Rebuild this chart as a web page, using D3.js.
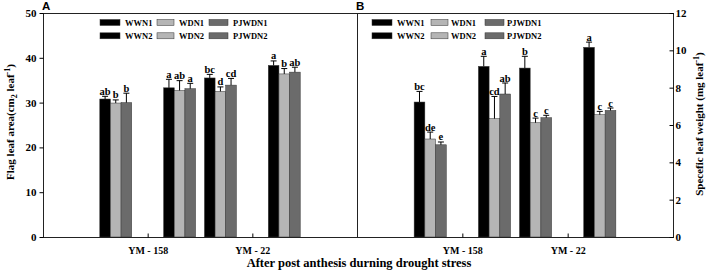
<!DOCTYPE html>
<html>
<head>
<meta charset="utf-8">
<script src="https://cdn.jsdelivr.net/npm/d3@7"></script>
<style>
  body { margin: 0; background: #fff; }
  svg text { font-family: "Liberation Serif", "Times New Roman", serif; font-weight: bold; }
</style>
</head>
<body>
<svg id="chart" width="708" height="273"></svg>
<script>
// categories
const cultivars = ["YM - 158", "YM - 22"];
const nLevels = ["N1", "N2"];
const treatments = ["WW", "WD", "PJWD"];
const legendNames = [["WWN1", "WDN1", "PJWDN1"], ["WWN2", "WDN2", "PJWDN2"]];

// flag leaf area, groups: YM-158 N1, YM-158 N2, YM-22 N1, YM-22 N2 ; each [WW, WD, PJWD]
const areaValues = [[30.8, 29.9, 30.0], [33.3, 32.7, 33.1], [35.5, 32.5, 33.9], [38.3, 36.4, 36.8]];
const areaErrors = [[0.6, 0.7, 2.1], [1.9, 2.2, 1.2], [0.8, 1.0, 1.5], [1.0, 1.2, 1.1]];
const areaLetters = [["ab", "b", "b"], ["a", "ab", "a"], ["bc", "d", "cd"], ["a", "b", "ab"]];
const areaTicks = [0, 10, 20, 30, 40, 50];

// specific leaf weight
const slwValues = [[7.23, 5.25, 4.94], [9.14, 6.34, 7.66], [9.05, 6.12, 6.39], [10.16, 6.55, 6.78]];
const slwErrors = [[0.57, 0.37, 0.15], [0.54, 1.19, 0.59], [0.63, 0.25, 0.13], [0.28, 0.18, 0.13]];
const slwLetters = [["bc", "de", "e"], ["a", "cd", "ab"], ["b", "c", "c"], ["a", "c", "c"]];
const slwTicks = [0, 2, 4, 6, 8, 10, 12];

const colors = { WW: "#000000", WD: "#b5b5b5", PJWD: "#6b6b6b" };

const svg = d3.select("#chart");
const plotTop = 13, plotBottom = 237;

function rows(values, errors, letters) {
    const out = [];
    cultivars.forEach((c, ci) => nLevels.forEach((n, ni) => treatments.forEach((t, ti) => {
        const g = ci * 2 + ni;
        out.push({ cultivar: c, n: n, t: t, v: values[g][ti], e: errors[g][ti], lab: letters[g][ti] });
    })));
    return out;
}

function drawPanel(p) {
    const g = svg.append("g");
    const x0 = d3.scalePoint().domain(cultivars).range([p.left, p.right]).padding(1);
    const step = x0.step();
    // N1 group left of the cultivar tick, N2 group right of it
    const xN = d3.scaleBand().domain(nLevels).range([-0.61 * step, 0.61 * step]);
    const xT = d3.scaleBand().domain(treatments).range([0, xN.bandwidth()]).paddingOuter(1.5);
    const y = d3.scaleLinear().domain(p.domain).range([plotBottom, plotTop]);
    const bx = d => x0(d.cultivar) + xN(d.n) + xT(d.t);
    const data = rows(p.values, p.errors, p.letters);

    // bars
    g.selectAll("rect.bar").data(data).enter().append("rect")
        .attr("class", "bar")
        .attr("x", bx)
        .attr("y", d => y(d.v))
        .attr("width", xT.bandwidth())
        .attr("height", d => y(0) - y(d.v))
        .attr("fill", d => colors[d.t])
        .attr("stroke", "#333").attr("stroke-width", 0.5);

    // error bars (upper only)
    const cx = d => bx(d) + xT.bandwidth() / 2;
    g.selectAll("line.err").data(data).enter().append("line")
        .attr("x1", cx).attr("x2", cx)
        .attr("y1", d => y(d.v)).attr("y2", d => y(d.v + d.e))
        .attr("stroke", "#000").attr("stroke-width", 1);
    g.selectAll("line.cap").data(data).enter().append("line")
        .attr("x1", d => cx(d) - 3).attr("x2", d => cx(d) + 3)
        .attr("y1", d => y(d.v + d.e)).attr("y2", d => y(d.v + d.e))
        .attr("stroke", "#000").attr("stroke-width", 1);
    g.selectAll("text.lab").data(data).enter().append("text")
        .attr("x", cx)
        .attr("y", d => y(d.v + d.e) - 1.5)
        .attr("text-anchor", "middle")
        .attr("font-size", 10.5)
        .text(d => d.lab);

    // frame
    g.append("rect")
        .attr("x", p.left + 0.5).attr("y", plotTop + 0.5)
        .attr("width", p.right - p.left).attr("height", plotBottom - plotTop)
        .attr("fill", "none").attr("stroke", "#222").attr("stroke-width", 1);

    // x axis
    const xa = g.append("g").attr("transform", `translate(0,${plotBottom + 0.5})`)
        .call(d3.axisBottom(x0).tickSizeInner(-4).tickSizeOuter(0).tickPadding(9));
    xa.select(".domain").remove();
    xa.selectAll("text").attr("font-size", 10).attr("font-family", null).attr("fill", "#000");

    // y axis
    const axis = p.side === "left" ? d3.axisLeft(y).tickSize(4) : d3.axisRight(y).tickSize(-4);
    const ya = g.append("g")
        .attr("transform", `translate(${(p.side === "left" ? p.left : p.right) + 0.5},0)`)
        .call(axis.tickValues(p.ticks).tickPadding(p.side === "left" ? 3 : 2));
    ya.select(".domain").remove();
    ya.selectAll("text").attr("font-size", 11).attr("font-family", null).attr("fill", "#000");

    // legend
    legendNames.forEach((row, ri) => {
        const ly = 22.5 + ri * 13.3;
        row.forEach((name, ti) => {
            g.append("rect")
                .attr("x", p.legendCols[ti][0]).attr("y", ly - 3)
                .attr("width", p.legendCols[ti][1]).attr("height", 6)
                .attr("fill", colors[treatments[ti]])
                .attr("stroke", "#333").attr("stroke-width", 0.5);
            g.append("text")
                .attr("x", p.legendCols[ti][2]).attr("y", ly + 3)
                .attr("font-size", 8.5)
                .text(name);
        });
    });

    // panel letter
    svg.append("text")
        .attr("x", p.left - 1).attr("y", 10)
        .attr("font-size", 11.5)
        .style("font-family", "'Liberation Sans', Arial, sans-serif")
        .text(p.name);
}

drawPanel({
    name: "A", left: 43, right: 357, side: "left", domain: [0, 50], ticks: areaTicks,
    values: areaValues, errors: areaErrors, letters: areaLetters,
    legendCols: [[100, 20, 125], [157, 17, 179], [209, 19, 233]]
});
drawPanel({
    name: "B", left: 357, right: 673, side: "right", domain: [0, 12], ticks: slwTicks,
    values: slwValues, errors: slwErrors, letters: slwLetters,
    legendCols: [[372, 20, 397], [431, 17, 451], [485, 19, 507]]
});

// axis titles
const leftTitle = svg.append("text")
    .attr("transform", "translate(14,122) rotate(-90)")
    .attr("text-anchor", "middle")
    .attr("font-size", 11);
leftTitle.append("tspan").text("Flag leaf area(cm");
leftTitle.append("tspan").attr("font-size", 8).attr("dy", 3).text("2");
leftTitle.append("tspan").attr("dy", -3).text(" leaf");
leftTitle.append("tspan").attr("font-size", 8).attr("dy", -4).text("-1");
leftTitle.append("tspan").attr("dy", 4).text(")");

const rightTitle = svg.append("text")
    .attr("transform", "translate(703,124) rotate(-90)")
    .attr("text-anchor", "middle")
    .attr("font-size", 11);
rightTitle.append("tspan").text("Specefic leaf weight (mg leaf");
rightTitle.append("tspan").attr("font-size", 8).attr("dy", -4).text("-1");
rightTitle.append("tspan").attr("dy", 4).text(")");

svg.append("text")
    .attr("x", 359).attr("y", 266.5)
    .attr("text-anchor", "middle")
    .attr("font-size", 12.5)
    .text("After post anthesis durning drought stress");
</script>
</body>
</html>
